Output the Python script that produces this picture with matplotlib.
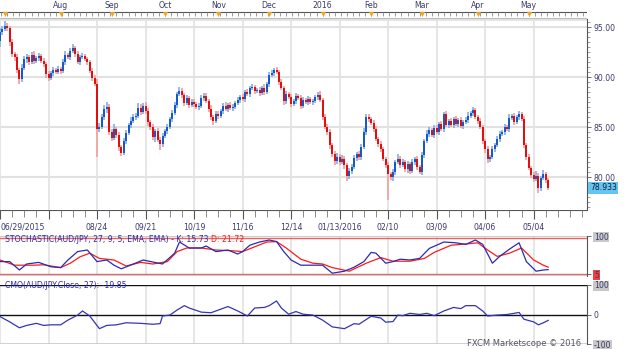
import matplotlib
matplotlib.use("Agg")
import matplotlib.pyplot as plt

W, H = 625, 349

# daily closes, bar index 0 = 06/29/2015
first_open = 93.6
closes = [
    94.5, 94.8, 95.1, 94.9, 93.5, 92.3, 92.0, 90.7, 89.8, 90.9, 91.8, 92.0, 91.5, 92.2, 91.6, 91.9, 92.1, 91.6, 91.3, 90.3,
    89.9, 90.4, 90.7, 90.5, 90.8, 90.6, 91.5, 92.2, 92.0, 92.6, 92.9, 92.3, 91.5, 92.0, 92.1, 91.8, 91.5, 90.6, 89.9, 89.3,
    84.8, 85.0, 86.0, 86.8, 87.0, 84.5, 83.9, 84.8, 84.2, 83.0, 82.4, 83.6, 84.4, 85.2, 85.6, 86.0, 86.1, 86.9, 86.5, 87.1,
    86.6, 85.5, 85.0, 84.0, 84.6, 83.7, 83.3, 84.1, 84.6, 85.0, 85.8, 86.4, 87.2, 88.3, 88.6, 88.2, 87.4, 87.9, 87.2, 87.5,
    87.3, 87.0, 87.1, 87.9, 88.1, 87.6, 86.8, 86.0, 85.6, 86.3, 86.1, 86.6, 87.1, 86.8, 87.2, 86.9, 87.0, 87.4, 87.7, 88.0,
    87.8, 88.5, 88.3, 88.9, 89.0, 88.6, 88.7, 88.4, 88.9, 88.5, 89.3, 90.2, 90.4, 90.7, 90.5, 89.5, 88.9, 87.6, 88.3, 88.0,
    87.3, 87.6, 88.1, 87.9, 87.1, 87.7, 87.5, 87.8, 87.5, 87.6, 88.0, 88.2, 87.7, 86.0, 85.0, 84.5, 83.2, 82.3, 81.6, 82.0,
    81.5, 81.8, 81.2, 80.1, 80.6, 81.0, 81.9, 82.3, 82.0, 83.0, 84.5, 86.0, 85.8, 85.4, 84.8, 83.8, 83.3, 82.8, 81.8, 81.2,
    80.3, 80.0, 80.5, 81.5, 81.8, 81.2, 81.5, 80.8, 81.3, 80.6, 81.5, 81.8, 81.0, 80.5, 82.2, 83.6, 84.3, 84.7, 84.2, 84.9,
    84.5, 85.3, 84.8, 86.3, 85.2, 85.6, 85.2, 85.8, 85.3, 85.7, 85.1, 85.5, 85.7, 86.1, 86.4, 86.7, 86.0, 85.6, 85.0, 83.6,
    82.8, 81.8, 82.0, 82.8, 83.2, 83.8, 84.3, 84.5, 85.0, 84.8, 85.9, 86.1, 85.5, 86.0, 86.3, 85.8, 83.2, 82.0, 80.9, 80.2,
    79.8, 80.1, 78.9, 79.9, 80.3, 79.7, 78.933,
]
up_wick = [
    .4, .3, .5, .3, .2, .3, .2, .3, .2, .4, .3, .3, .2, .3, .4, .2, .3, .2, .3, .2,
    .3, .2, .3, .2, .3, .2, .3, .4, .2, .3, .4, .2, .3, .2, .3, .2, .2, .2, .3, .3,
    .5, .4, .3, .4, .5, .3, .3, .5, .2, .3, .2, .3, .3, .2, .4, .3, .3, .5, .4, .3,
    .4, .3, .2, .3, .2, .3, .3, .3, .2, .3, .2, .3, .3, .2, .4, .3, .2, .3, .2, .3,
    .3, .2, .3, .3, .3, .3, .2, .4, .2, .3, .3, .2, .3, .4, .2, .3, .3, .2, .3, .2,
    .3, .2, .3, .2, .3, .2, .2, .3, .2, .4, .2, .3, .3, .2, .3, .2, .3, .2, .3, .2,
    .3, .2, .3, .2, .3, .3, .2, .3, .2, .2, .2, .3, .4, .2, .3, .3, .3, .2, .3, .4,
    .3, .4, .3, .2, .3, .3, .3, .2, .3, .3, .4, .3, .3, .2, .3, .3, .2, .3, .2, .2,
    .3, .2, .3, .2, .5, .3, .3, .2, .3, .2, .3, .2, .3, .2, .3, .2, .4, .3, .2, .3,
    .3, .2, .3, .2, .3, .2, .3, .2, .3, .2, .3, .2, .3, .4, .2, .3, .2, .2, .3, .2,
    .2, .3, .2, .3, .2, .3, .3, .2, .3, .2, .4, .2, .3, .2, .3, .2, .3, .2, .3, .2,
    .3, .5, .3, .2, .4, .2, .2,
]
dn_wick = [
    .6, .3, .2, .3, .4, .3, .4, .3, .5, .3, .2, .4, .3, .2, .3, .2, .3, .2, .3, .4,
    .3, .2, .3, .2, .2, .3, .2, .3, .2, .3, .2, .3, .2, .3, .2, .2, .3, .2, .3, .2,
    2.8, .3, .2, .3, .4, .3, .3, .2, .3, .4, .3, .2, .3, .2, .3, .2, .3, .2, .3, .2,
    .3, .4, .3, .3, .5, .2, .6, .3, .2, .3, .2, .3, .2, .3, .2, .3, .3, .2, .3, .2,
    .3, .2, .3, .2, .3, .2, .3, .3, .4, .2, .3, .2, .3, .2, .3, .2, .3, .2, .2, .3,
    .2, .3, .2, .3, .2, .3, .2, .3, .2, .3, .2, .3, .2, .3, .2, .3, .2, .4, .3, .2,
    .3, .2, .3, .2, .3, .2, .2, .3, .2, .3, .2, .3, .2, .3, .2, .3, .4, .3, .4, .3,
    .3, .2, .4, .5, .3, .3, .2, .3, .3, .3, .2, .3, .3, .2, .3, .2, .3, .3, .2, .3,
    2.6, .3, .4, .3, .2, .3, .2, .3, .4, .3, .2, .3, .3, .2, .3, .3, .2, .3, .2, .3,
    .2, .3, .2, .3, .2, .3, .2, .3, .2, .3, .2, .3, .2, .3, .2, .3, .2, .3, .2, .3,
    .4, .4, .3, .2, .3, .2, .3, .2, .3, .2, .3, .2, .3, .2, .3, .2, .3, .3, .2, .3,
    .3, .2, .5, .3, .2, .3, .2,
]

# stochastic K / D and CMO, read at sparse bars
k_idx = [0, 4, 8, 11, 16, 21, 25, 28, 32, 36, 40, 44, 47, 50, 55, 59, 63, 67, 72, 74,
         78, 83, 85, 89, 94, 98, 100, 103, 107, 111, 114, 117, 120, 124, 129, 133, 137, 142, 146, 150,
         153, 155, 159, 162, 165, 169, 173, 177, 183, 188, 192, 196, 199, 203, 206, 210, 214, 217, 221, 224, 226]
k_val = [36, 36, 15, 30, 34, 23, 21, 40, 61, 65, 36, 40, 27, 18, 30, 40, 35, 30, 57, 85,
         70, 70, 75, 61, 65, 55, 61, 77, 85, 90, 86, 61, 40, 27, 27, 27, 7, 12, 22, 36,
         59, 57, 32, 36, 42, 40, 44, 69, 85, 83, 79, 90, 79, 32, 49, 67, 83, 36, 12, 15, 16]
d_idx = [0, 6, 14, 18, 25, 29, 33, 37, 41, 47, 52, 58, 63, 69, 73, 77, 83, 89, 96, 100,
         105, 110, 114, 118, 124, 129, 133, 137, 144, 151, 157, 162, 169, 175, 179, 186, 192, 197, 201, 205,
         210, 215, 220, 224, 226]
d_val = [40, 27, 27, 28, 21, 32, 48, 57, 44, 40, 25, 34, 30, 36, 61, 70, 70, 65, 63, 61,
         73, 85, 86, 70, 42, 32, 30, 21, 12, 32, 46, 37, 37, 44, 59, 77, 80, 83, 65, 49,
         57, 70, 40, 27, 22]
cmo_idx = [0, 4, 8, 11, 15, 18, 21, 25, 28, 32, 34, 37, 41, 44, 48, 52, 58, 63, 66, 67,
           70, 73, 76, 78, 83, 87, 89, 94, 98, 102, 105, 109, 111, 114, 116, 119, 122, 125, 129, 133,
           137, 142, 146, 148, 153, 157, 159, 162, 164, 166, 169, 173, 176, 179, 183, 187, 190, 192, 196, 199,
           201, 205, 209, 212, 214, 216, 220, 222, 224, 226]
cmo_val = [-7, -25, -45, -37, -30, -37, -35, -35, -19, -2, 12, -5, -48, -37, -35, -28, -30, -33, -31, -5,
           -2, 15, 30, 22, 8, 6, 12, 27, 12, -5, 22, 24, 30, 46, 22, 1, 10, 1, -2, -19,
           -42, -48, -31, -33, -6, -12, -26, -24, -2, -4, 4, 0, 4, -4, 12, 24, 20, 30, 30, 12,
           -5, -2, 0, 4, 7, -16, -25, -35, -28, -20]

date_idx = [0, 20, 40, 60, 80, 100, 120, 140, 160, 180, 200, 220]
date_labels = ["06/29/2015", "", "08/24", "09/21", "10/19", "11/16", "12/14",
               "01/13/2016", "02/10", "03/09", "04/06", "05/04"]
month_idx = [2, 25, 46, 68, 90, 111, 133, 153, 174, 197, 218]
month_labels = ["", "Aug", "Sep", "Oct", "Nov", "Dec", "2016", "Feb", "Mar", "Apr", "May"]

last_price = "78.933"
stoch_title = "STOCHASTIC(AUD/JPY, 27, 9, 5, EMA, EMA) - K: 15.73 "
stoch_d = "D: 21.72"
cmo_title = "CMO(AUD/JPY.Close, 27): -19.85"

XMAX = 242
FS = 5.6
GRID = "#e2e2e2"
TXT = "#3a3a6a"
UP, DN = "#0a4fc4", "#e00000"
UP_W, DN_W = "#8db3e6", "#f3a3a3"

fig = plt.figure(figsize=(W / 100, H / 100), dpi=100)
fig.patch.set_facecolor("white")


def px_axes(x0, y0, x1, y1):
    return fig.add_axes([x0 / W, 1 - y1 / H, (x1 - x0) / W, (y1 - y0) / H])


def base(ax):
    ax.set_xlim(0, XMAX)
    ax.set_facecolor("none")
    for s in ["left", "top", "bottom"]:
        ax.spines[s].set_visible(False)
    ax.spines["right"].set_color("#555555")
    for i in date_idx:
        ax.axvline(i, color=GRID, lw=1.2, zorder=0)
    ax.tick_params(axis="x", bottom=False, labelbottom=False)
    ax.yaxis.tick_right()
    ax.tick_params(axis="y", colors="#555555", labelcolor=TXT, labelsize=FS, length=3, width=0.6, pad=2)


# ---- price panel
ax = px_axes(0, 19, 587, 210)
base(ax)
ax.set_ylim(76.7, 95.8)
for p in [80, 85, 90, 95]:
    ax.axhline(p, color=GRID, lw=1.5, zorder=0)
ax.axhline(95.8, color=GRID, lw=2, zorder=0)

opens = [first_open] + closes[:-1]
for i, (o, c) in enumerate(zip(opens, closes)):
    hi = max(o, c) + up_wick[i]
    lo = min(o, c) - dn_wick[i]
    up = c >= o
    ax.vlines(i, lo, hi, color=UP_W if up else DN_W, lw=1.3, zorder=2)
    ax.vlines(i, min(o, c), max(o, c) + 0.02, color=UP if up else DN, lw=1.3, zorder=3)

ax.set_yticks([80, 85, 90, 95])
ax.set_yticklabels(["80.00", "85.00", "90.00", "95.00"])
ax.set_yticks([x / 2 for x in range(154, 192)], minor=True)
ax.tick_params(axis="y", which="minor", length=2, width=0.5, colors="#777777")
ax.text(1.005, float(last_price), last_price, transform=ax.get_yaxis_transform(),
        ha="left", va="center", fontsize=FS, color="#1a1a3a",
        bbox=dict(boxstyle="square,pad=0.2", fc="#62c6ee", ec="none"))

# ---- date ruler
axd = px_axes(0, 210, 587, 232)
axd.set_xlim(0, XMAX)
axd.set_ylim(0, 1)
axd.axis("off")
axd.axhline(1, color="#555555", lw=0.8)
axd.vlines(range(0, XMAX, 5), 0.68, 1, color="#777777", lw=0.6)
axd.vlines(date_idx, 0.6, 1, color="#555555", lw=0.8)
for i, lab in zip(date_idx, date_labels):
    axd.text(i if i else 0.3, 0.25, lab, ha="center" if i else "left", va="center",
             fontsize=FS, color=TXT)

# ---- month ruler
axm = px_axes(0, 0, 587, 19)
axm.set_xlim(0, XMAX)
axm.set_ylim(0, 1)
axm.axis("off")
axm.axhline(0.36, color="#555555", lw=0.8)
axm.axhline(0.05, color="#bbbbbb", lw=0.8)
axm.vlines([x / 2 for x in range(1, 2 * XMAX, 5)], 0.14, 0.36, color="#888888", lw=0.6)
axm.scatter(month_idx, [0.24] * len(month_idx), marker="v", s=14, color="#f5a31c", zorder=3, linewidths=0)
for i, lab in zip(month_idx, month_labels):
    axm.text(i, 0.7, lab, ha="center", va="center", fontsize=FS, color=TXT)

# ---- stochastic panel
axs = px_axes(0, 236, 587, 276)
base(axs)
axs.set_ylim(0, 100)
axs.axhline(95, color="#f06060", lw=1.0)
axs.axhline(5, color="#f06060", lw=1.0)
axs.axhline(100, color="#cccccc", lw=1.5)
axs.axhline(0, color="#cccccc", lw=1.5)
axs.plot(d_idx, d_val, color="#ff1a1a", lw=0.9, zorder=3)
axs.plot(k_idx, k_val, color="#2b2bb0", lw=0.9, zorder=4)
axs.set_yticks([100, 5])
axs.set_yticklabels(["100", "5"])
labs = axs.get_yticklabels()
labs[0].set_bbox(dict(boxstyle="square,pad=0.1", fc="#c8c8c8", ec="none"))
labs[1].set_bbox(dict(boxstyle="square,pad=0.1", fc="#f04040", ec="none"))
t1 = axs.text(5 / 587, 0.9, stoch_title, transform=axs.transAxes,
              fontsize=FS, color="#2b2bb0", va="center", ha="left")
axs.annotate(stoch_d, xy=(1, 0.5), xycoords=t1, va="center", ha="left", fontsize=FS, color="#ff1a1a")

# ---- CMO panel
axc = px_axes(0, 285, 587, 344)
base(axc)
axc.set_ylim(-100, 100)
axc.axhline(100, color="#111111", lw=1.0)
axc.axhline(0, color="#111111", lw=1.0)
axc.axhline(-100, color="#cccccc", lw=2)
axc.plot(cmo_idx, cmo_val, color="#3535b5", lw=0.9, zorder=3)
axc.set_yticks([100, 0, -100])
axc.set_yticklabels(["100", "0", "-100"])
for lab in axc.get_yticklabels():
    if lab.get_text() != "0":
        lab.set_bbox(dict(boxstyle="square,pad=0.1", fc="#c8c8c8", ec="none"))
axc.text(5 / 587, 0.99, cmo_title, transform=axc.transAxes, fontsize=FS, color="#2b2bb0",
         va="center", ha="left")
axc.text(0.99, -100, "FXCM Marketscope \u00a9 2016", transform=axc.get_yaxis_transform(),
         ha="right", va="center", fontsize=FS + 0.4, color="#555566")

fig.savefig("out.png", dpi=100)
